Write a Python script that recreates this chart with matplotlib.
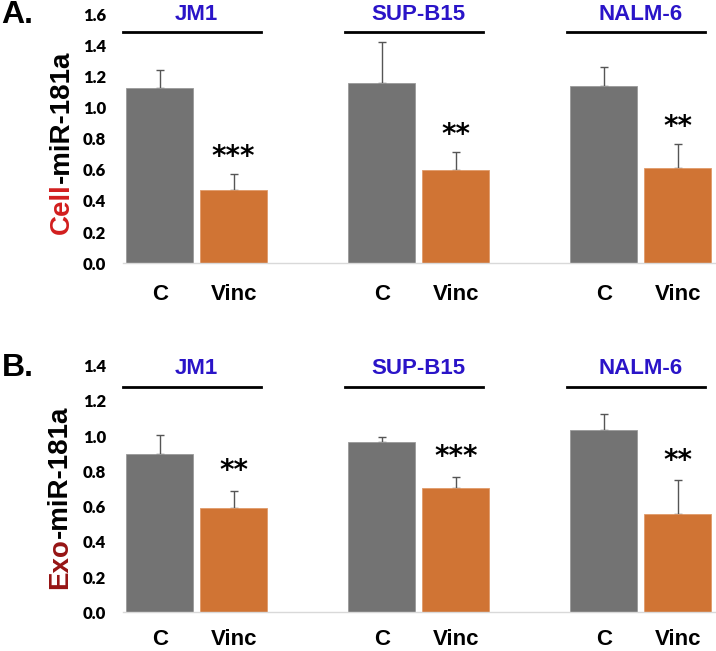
import matplotlib.pyplot as plt
import matplotlib.transforms as mtransforms
import numpy as np

# cell lines and treatment groups
cell_lines = ['JM1', 'SUP-B15', 'NALM-6']
groups = ['C', 'Vinc']

# panel A: cellular miR-181a
cell_ctrl = [1.127, 1.163, 1.142]
cell_ctrl_err = [0.116, 0.261, 0.124]
cell_vinc = [0.471, 0.602, 0.611]
cell_vinc_err = [0.101, 0.114, 0.155]
cell_stars = ['***', '**', '**']

# panel B: exosomal miR-181a
exo_ctrl = [0.899, 0.969, 1.035]
exo_ctrl_err = [0.106, 0.028, 0.089]
exo_vinc = [0.590, 0.706, 0.558]
exo_vinc_err = [0.101, 0.064, 0.193]
exo_stars = ['**', '***', '**']

GRAY = '#737373'
ORANGE = '#d07434'
BLUE = '#2a14c8'
FONT = 'Liberation Sans'


def draw_panel(ax, ctrl, ctrl_err, vinc, vinc_err, stars, ymax, star_off,
               line_y, name_y, xpad):
    x = np.arange(len(cell_lines))
    off, w = 0.1667, 0.302
    ax.bar(x - off, ctrl, width=w, color=GRAY, edgecolor='#9a9a9a', linewidth=0.6, zorder=2)
    ax.bar(x + off, vinc, width=w, color=ORANGE, edgecolor='#e09a6a', linewidth=0.6, zorder=2)
    zeros = np.zeros(len(x))
    ax.errorbar(x - off, ctrl, yerr=[zeros, ctrl_err], fmt='none', ecolor='#555555',
                elinewidth=1, capsize=3, capthick=1, zorder=1)
    ax.errorbar(x + off, vinc, yerr=[zeros, vinc_err], fmt='none', ecolor='#555555',
                elinewidth=1, capsize=3, capthick=1, zorder=1)

    # significance stars above the treated bars
    for i in range(len(x)):
        top = vinc[i] + vinc_err[i]
        ax.text(x[i] + off, top + star_off, stars[i], ha='center', va='center',
                fontsize=20, fontweight='bold', family='DejaVu Sans')

    # cell line names with a bar underneath
    trans = mtransforms.blended_transform_factory(ax.transData, ax.transAxes)
    for i, name in enumerate(cell_lines):
        ax.plot([x[i] - 0.33, x[i] + 0.29], [line_y, line_y], color='black', lw=2,
                transform=trans, clip_on=False)
        ax.text(x[i], name_y, name, transform=trans, ha='center', va='center',
                color=BLUE, fontsize=16, fontweight='bold', family=FONT)

    ticks = np.concatenate([x - off, x + off])
    labels = [groups[0]] * len(x) + [groups[1]] * len(x)
    ax.set_xticks(ticks)
    ax.set_xticklabels(labels, fontsize=16, fontweight='bold', family=FONT)
    ax.tick_params(axis='x', length=0, pad=xpad)

    yt = np.arange(0, ymax + 0.01, 0.2)
    ax.set_ylim(0, ymax)
    ax.set_yticks(yt)
    ax.set_yticklabels(['%.1f' % v for v in yt], fontsize=12, fontweight='heavy',
                       family='Lato')
    ax.tick_params(axis='y', length=0, pad=12)

    ax.set_xlim(-0.333, 2.339)
    for s in ['top', 'right', 'left']:
        ax.spines[s].set_visible(False)
    ax.spines['bottom'].set_color('#d9d9d9')
    ax.spines['bottom'].set_linewidth(1)


def two_color_label(fig, x, y, first, rest, color):
    t = fig.text(x, y, first, rotation=90, ha='center', va='bottom', color=color,
                 fontsize=20, fontweight='bold', family=FONT)
    plt.annotate(rest, xy=(0.5, 1), xycoords=t, rotation=90, ha='center', va='bottom',
                 color='black', fontsize=20, fontweight='bold', family=FONT,
                 annotation_clip=False)


fig = plt.figure(figsize=(7.16, 6.51), dpi=100)
ax1 = fig.add_axes([0.1714, 0.596, 0.8286, 0.381])
ax2 = fig.add_axes([0.1714, 0.0594, 0.8286, 0.3788])

draw_panel(ax1, cell_ctrl, cell_ctrl_err, cell_vinc, cell_vinc_err, cell_stars,
           1.6, 0.11, 0.930, 1.0, 15)
draw_panel(ax2, exo_ctrl, exo_ctrl_err, exo_vinc, exo_vinc_err, exo_stars,
           1.4, 0.11, 0.915, 0.99, 12)

two_color_label(fig, 0.0866, 1 - 234 / 651, 'Cell', '-miR-181a', '#d21e1e')
two_color_label(fig, 0.0838, 1 - 589 / 651, 'Exo', '-miR-181a', '#961414')

fig.text(0.002, 1 - 15 / 651, 'A.', fontsize=23, fontweight='bold', family=FONT,
         ha='left', va='center')
fig.text(0.002, 1 - 368 / 651, 'B.', fontsize=23, fontweight='bold', family=FONT,
         ha='left', va='center')

fig.savefig('out.png', dpi=100)
